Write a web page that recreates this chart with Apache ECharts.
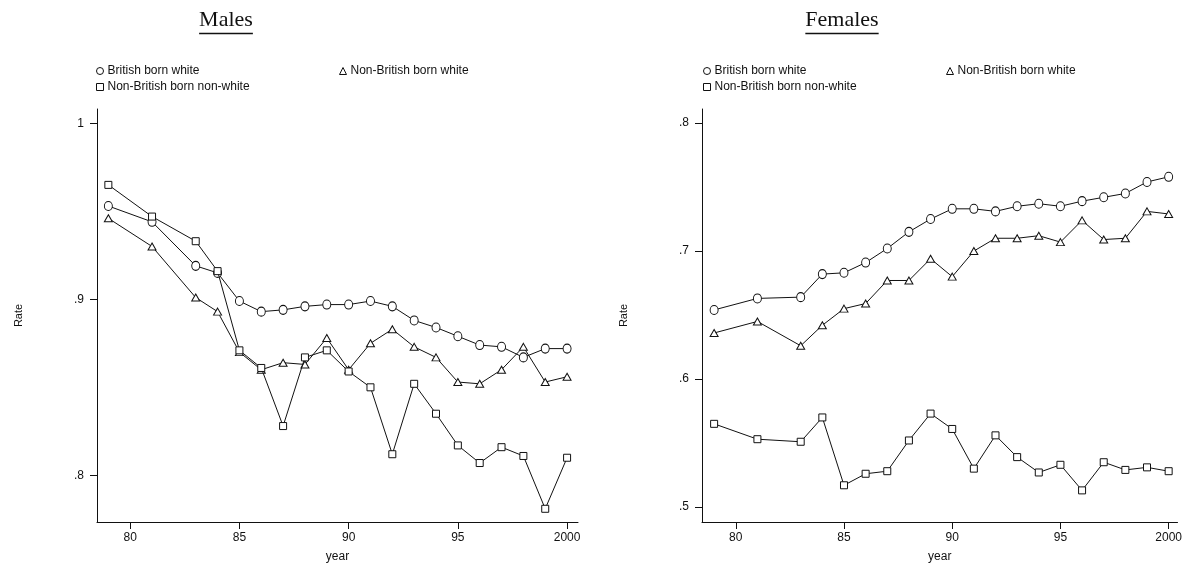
<!DOCTYPE html>
<html>
<head>
<meta charset="utf-8">
<title>Rate by year</title>
<script src="https://cdn.jsdelivr.net/npm/echarts@6/dist/echarts.min.js"></script>
<style>
  html, body { margin: 0; padding: 0; background: #fff; }
  #chart { width: 1185px; height: 569px; }
</style>
</head>
<body>
<div id="chart"></div>
<script>
// Años (100 = 2000)
const years = [79, 81, 83, 84, 85, 86, 87, 88, 89, 90, 91, 92, 93, 94, 95, 96, 97, 98, 99, 100];

// Hombres
const maleBritishWhite = [0.953, 0.944, 0.919, 0.915, 0.899, 0.893, 0.894, 0.896, 0.897, 0.897, 0.899, 0.896, 0.888, 0.884, 0.879, 0.874, 0.873, 0.867, 0.872, 0.872];
const maleNonBritishWhite = [0.946, 0.930, 0.901, 0.893, 0.870, 0.860, 0.864, 0.863, 0.878, 0.860, 0.875, 0.883, 0.873, 0.867, 0.853, 0.852, 0.860, 0.873, 0.853, 0.856];
const maleNonBritishNonWhite = [0.965, 0.947, 0.933, 0.916, 0.871, 0.861, 0.828, 0.867, 0.871, 0.859, 0.850, 0.812, 0.852, 0.835, 0.817, 0.807, 0.816, 0.811, 0.781, 0.810];

// Mujeres
const femaleBritishWhite = [0.654, 0.663, 0.664, 0.682, 0.683, 0.691, 0.702, 0.715, 0.725, 0.733, 0.733, 0.731, 0.735, 0.737, 0.735, 0.739, 0.742, 0.745, 0.754, 0.758];
const femaleNonBritishWhite = [0.636, 0.645, 0.626, 0.642, 0.655, 0.659, 0.677, 0.677, 0.694, 0.680, 0.700, 0.710, 0.710, 0.712, 0.707, 0.724, 0.709, 0.710, 0.731, 0.729];
const femaleNonBritishNonWhite = [0.565, 0.553, 0.551, 0.570, 0.517, 0.526, 0.528, 0.552, 0.573, 0.561, 0.530, 0.556, 0.539, 0.527, 0.533, 0.513, 0.535, 0.529, 0.531, 0.528];

// Nombres y marcas de los ejes
const seriesNames = ['British born white', 'Non-British born white', 'Non-British born non-white'];
const panelTitles = ['Males', 'Females'];
const xTicks = [80, 85, 90, 95, 100];
const maleYTicks = [0.8, 0.9, 1];
const femaleYTicks = [0.5, 0.6, 0.7, 0.8];

const chart = echarts.init(document.getElementById('chart'));

const sans = 'Liberation Sans, Arial, sans-serif';
const serif = 'Liberation Serif, Times New Roman, serif';
const ink = '#111';

const symbols = [
    { symbol: 'circle', size: [8, 9] },
    { symbol: 'triangle', size: [8, 7] },
    { symbol: 'rect', size: [7, 7] }
];

// Serie de línea con marcadores huecos
function makeSeries(name, values, axisIndex, k) {
    return {
        name: name,
        type: 'line',
        xAxisIndex: axisIndex,
        yAxisIndex: axisIndex,
        data: years.map((y, i) => [y, values[i]]),
        symbol: symbols[k].symbol,
        symbolSize: symbols[k].size,
        showAllSymbol: true,
        lineStyle: { color: ink, width: 1 },
        itemStyle: { color: '#fff', borderColor: ink, borderWidth: 1 },
        emphasis: { disabled: true },
        animation: false,
        z: 2 + k
    };
}

function makeXAxis(gridIndex, min, max) {
    return {
        type: 'value',
        gridIndex: gridIndex,
        min: min,
        max: max,
        name: 'year',
        nameLocation: 'middle',
        nameGap: 29,
        nameTextStyle: { fontFamily: sans, fontSize: 12, color: ink },
        splitLine: { show: false },
        axisLine: { onZero: false, lineStyle: { color: ink, width: 1 } },
        axisTick: { customValues: xTicks, length: 7, lineStyle: { color: ink } },
        axisLabel: {
            customValues: xTicks,
            margin: 10,
            fontFamily: sans,
            fontSize: 12,
            color: ink,
            formatter: v => (v === 100 ? '2000' : String(v))
        }
    };
}

function makeYAxis(gridIndex, min, max, ticks) {
    return {
        type: 'value',
        gridIndex: gridIndex,
        min: min,
        max: max,
        name: 'Rate',
        nameLocation: 'middle',
        nameRotate: 90,
        nameGap: 73,
        nameTextStyle: { fontFamily: sans, fontSize: 11, color: ink },
        splitLine: { show: false },
        axisLine: { show: true, onZero: false, lineStyle: { color: ink, width: 1 } },
        axisTick: { show: true, customValues: ticks, length: 7, lineStyle: { color: ink } },
        axisLabel: {
            customValues: ticks,
            margin: 13,
            fontFamily: sans,
            fontSize: 12,
            color: ink,
            formatter: v => String(+v.toFixed(1)).replace(/^0/, '')
        }
    };
}

// Leyendas: una por elemento para copiar la disposición en dos filas
const legendIcons = ['circle', 'triangle', 'rect'];
const legendSpots = [
    { dx: 0, top: 65 },
    { dx: 243, top: 65 },
    { dx: 0, top: 81 }
];
const legendStarts = [96, 703];
const legends = [];
legendStarts.forEach(x0 => {
    seriesNames.forEach((name, k) => {
        legends.push({
            left: x0 + legendSpots[k].dx,
            top: legendSpots[k].top,
            padding: 0,
            itemWidth: 7,
            itemHeight: 7,
            selectedMode: false,
            data: [{ name: name, icon: legendIcons[k] }],
            itemStyle: { color: '#fff', borderColor: ink, borderWidth: 1 },
            textStyle: { fontFamily: sans, fontSize: 12, color: ink, padding: [0, 0, 0, -1] }
        });
    });
});

// Títulos subrayados
const titleSize = 22;
const measure = document.createElement('canvas').getContext('2d');
measure.font = titleSize + 'px ' + serif;
const titleCenters = [226, 842];
const graphics = [];
panelTitles.forEach((t, i) => {
    const w = measure.measureText(t).width;
    graphics.push({
        type: 'text',
        x: titleCenters[i],
        y: 9,
        style: { text: t, fontFamily: serif, fontSize: titleSize, fill: ink, textAlign: 'center', textVerticalAlign: 'top' }
    });
    graphics.push({
        type: 'line',
        shape: { x1: titleCenters[i] - w / 2, y1: 33.5, x2: titleCenters[i] + w / 2, y2: 33.5 },
        style: { stroke: ink, lineWidth: 1.5 }
    });
});

const option = {
    backgroundColor: '#fff',
    animation: false,
    graphic: graphics,
    legend: legends,
    grid: [
        { left: 97, top: 109, right: 607, bottom: 47 },
        { left: 702, top: 109, right: 5, bottom: 47 }
    ],
    xAxis: [
        makeXAxis(0, 78.48, 100.5),
        makeXAxis(1, 78.44, 100.41)
    ],
    yAxis: [
        makeYAxis(0, 0.7735, 1.0081, maleYTicks),
        makeYAxis(1, 0.4883, 0.811, femaleYTicks)
    ],
    series: [
        makeSeries(seriesNames[0], maleBritishWhite, 0, 0),
        makeSeries(seriesNames[1], maleNonBritishWhite, 0, 1),
        makeSeries(seriesNames[2], maleNonBritishNonWhite, 0, 2),
        makeSeries(seriesNames[0], femaleBritishWhite, 1, 0),
        makeSeries(seriesNames[1], femaleNonBritishWhite, 1, 1),
        makeSeries(seriesNames[2], femaleNonBritishNonWhite, 1, 2)
    ]
};

chart.setOption(option);
</script>
</body>
</html>
